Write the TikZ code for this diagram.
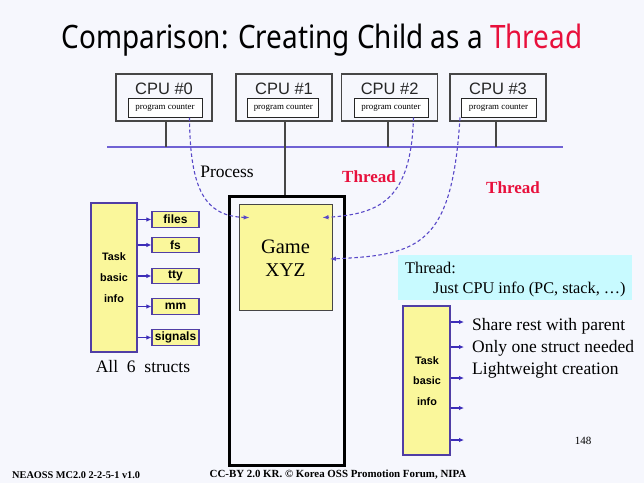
\documentclass[tikz,border=0pt]{standalone}
\usepackage{fontspec}
\setmainfont{Liberation Serif}
\setsansfont{Liberation Sans}
\newfontfamily\titlefont{Noto Sans}
\usetikzlibrary{arrows.meta}
\definecolor{bg}{RGB}{246,247,253}
\definecolor{busc}{RGB}{112,98,212}
\definecolor{dashc}{RGB}{88,72,200}
\definecolor{boxb}{RGB}{80,62,165}
\definecolor{arrc}{RGB}{60,45,185}
\definecolor{yel}{RGB}{250,247,155}
\definecolor{cyanbg}{RGB}{200,250,255}
\definecolor{redt}{RGB}{232,16,60}
\definecolor{grayl}{RGB}{70,70,70}
\tikzset{
  cpubox/.style={draw=grayl,line width=1.1pt,minimum width=96pt,minimum height=47pt,inner sep=0pt},
  pcbox/.style={draw=black!85,line width=1pt,fill=white,minimum height=19pt,inner sep=0pt,font=\fontsize{8.9}{9}\selectfont},
  cpulbl/.style={font=\sffamily\fontsize{16.5}{17}\selectfont,text=black!85,inner sep=0pt},
  stem/.style={draw=grayl,line width=1.1pt},
  busline/.style={draw=busc,line width=1.3pt},
  dashy/.style={draw=dashc,line width=1.1pt,dash pattern=on 3.5pt off 2.5pt,-{Latex[length=6pt,width=4.5pt]}},
  taskbox/.style={draw=boxb,line width=1.1pt,fill=yel,minimum width=46pt,minimum height=149pt,inner sep=0pt},
  tasktxt/.style={font=\sffamily\bfseries\fontsize{10.8}{11}\selectfont,inner sep=0pt},
  smallbox/.style={draw=boxb,line width=1.1pt,fill=yel,minimum width=47pt,minimum height=15.5pt,inner sep=0pt,font=\sffamily\bfseries\fontsize{12}{12}\selectfont},
  arr/.style={draw=boxb,line width=1.1pt,-{Latex[length=5pt,width=4.5pt]},color=arrc},
  serif17/.style={font=\fontsize{17.5}{18}\selectfont,inner sep=0pt},
  redlbl/.style={font=\bfseries\fontsize{17}{18}\selectfont,text=redt,inner sep=0pt},
  foot/.style={font=\bfseries\fontsize{10.3}{11}\selectfont,inner sep=0pt}
}
\begin{document}
\begin{tikzpicture}[x=1pt,y=-1pt]
\fill[bg] (0,0) rectangle (644,483);
\useasboundingbox (0,0) rectangle (644,483);
% title
\node[inner sep=0pt] (title) at (322,40) {\scalebox{0.9}[1.04]{\titlefont\fontsize{31}{32}\selectfont Comparison: Creating Child as a \textcolor{redt}{Thread}}};
% bus
\coordinate (busL) at (107,147);
\coordinate (busR) at (563,147);
\draw[busline] (busL) -- (busR);
% CPUs
\node[cpubox] (cpu0) at (164,97.5) {};
\node[cpubox] (cpu1) at (284,97.5) {};
\node[cpubox] (cpu2) at (389.7,97.5) {};
\node[cpubox] (cpu3) at (498,97.5) {};
\node[cpulbl] (l0) at (164,89) {CPU \#0};
\node[cpulbl] (l1) at (284,89) {CPU \#1};
\node[cpulbl] (l2) at (389.7,89) {CPU \#2};
\node[cpulbl] (l3) at (498,89) {CPU \#3};
\node[pcbox,minimum width=74pt] (pc0) at (165,107.5) {program counter};
\node[pcbox,minimum width=71pt] (pc1) at (283.3,107.5) {program counter};
\node[pcbox,minimum width=74pt] (pc2) at (391,107.5) {program counter};
\node[pcbox,minimum width=75pt] (pc3) at (498.5,107.5) {program counter};
% stems
\draw[stem] (cpu0.south -| 166,0) -- (166,147);
\draw[stem] (cpu2.south -| 388,0) -- (388,147);
\draw[stem] (cpu3.south -| 496,0) -- (496,147);
% outer black box
\node[draw=black,line width=3pt,minimum width=114.5pt,minimum height=269pt,inner sep=0pt] (proc) at (287.2,330.5) {};
\draw[stem] (cpu1.south -| 285,0) -- (proc.north -| 285,0);
% game box
\node[draw=grayl,line width=0.8pt,fill=yel,minimum width=93pt,minimum height=106pt,inner sep=0pt] (game) at (285.5,257) {};
\node[font=\fontsize{20.5}{21}\selectfont,inner sep=0pt] (gt1) at (285.5,247) {Game};
\node[font=\fontsize{19.5}{20}\selectfont,inner sep=0pt] (gt2) at (285.5,270) {XYZ};
% dashed connectors
\draw[dashy] ([xshift=-13pt]pc0.south east) .. controls (190,190) and (205,216) .. ([xshift=11pt,yshift=-14pt]game.north west);
\draw[dashy] ([xshift=-15pt]pc2.south east) .. controls (411,200) and (380,214) .. ([xshift=-10pt,yshift=-14pt]game.north east);
\draw[dashy] ([xshift=-0.5pt]pc3.south west) .. controls (452,245) and (420,255) .. ([xshift=-2.5pt,yshift=-2pt]game.east);
% labels
\node[serif17] (proclbl) at (227,172) {Process};
\node[redlbl] (thr1) at (369,177) {Thread};
\node[redlbl] (thr2) at (513,188) {Thread};
% left task box
\node[taskbox] (task) at (114,277.5) {};
\node[tasktxt] (tk1) at (114,257) {Task};
\node[tasktxt] (tk2) at (114,278) {basic};
\node[tasktxt] (tk3) at (114,299) {info};
\node[smallbox] (s1) at (175.5,219.5) {files};
\node[smallbox] (s2) at (175.5,245) {fs};
\node[smallbox] (s3) at (175.5,276) {tty};
\node[smallbox] (s4) at (175.5,306.5) {mm};
\node[smallbox] (s5) at (175.5,337.5) {signals};
\foreach \s in {s1,s2,s3,s4,s5}{\draw[arr] (task.east |- \s.west) -- (\s.west);}
\node[serif17] (all6) at (143,367) {All\ \ 6\ \ structs};
% cyan box
\node[fill=cyanbg,minimum width=234pt,minimum height=45pt,inner sep=0pt] (cyan) at (515,277.5) {};
\node[font=\fontsize{16.3}{17}\selectfont,inner sep=0pt,anchor=west] (ct1) at (405,268) {Thread:};
\node[font=\fontsize{16.3}{17}\selectfont,inner sep=0pt,anchor=west] (ct2) at (433,289) {Just CPU info (PC, stack, …)};
% right task box
\node[taskbox,minimum width=47pt] (task2) at (426.5,380.5) {};
\node[tasktxt] (tr1) at (427,361) {Task};
\node[tasktxt] (tr2) at (427,381) {basic};
\node[tasktxt] (tr3) at (427,402) {info};
\coordinate (r1) at (464,322);
\coordinate (r2) at (464,347);
\coordinate (r3) at (464,378);
\coordinate (r4) at (464,408);
\coordinate (r5) at (464,440);
\foreach \r in {r1,r2,r3,r4,r5}{\draw[arr] (task2.east |- \r) -- (\r);}
\node[serif17,anchor=west] (b1) at (472,326) {Share rest with parent};
\node[serif17,anchor=west] (b2) at (472,348) {Only one struct needed};
\node[serif17,anchor=west] (b3) at (472,370) {Lightweight creation};
\node[font=\fontsize{11}{11}\selectfont,inner sep=0pt] (pg) at (583,441) {148};
% footer
\node[foot,anchor=west] (f1) at (12,475) {NEAOSS MC2.0 2-2-5-1 v1.0};
\node[foot,font=\bfseries\fontsize{10.9}{11}\selectfont] (f2) at (338,475) {CC-BY 2.0 KR. © Korea OSS Promotion Forum, NIPA};
\end{tikzpicture}
\end{document}
